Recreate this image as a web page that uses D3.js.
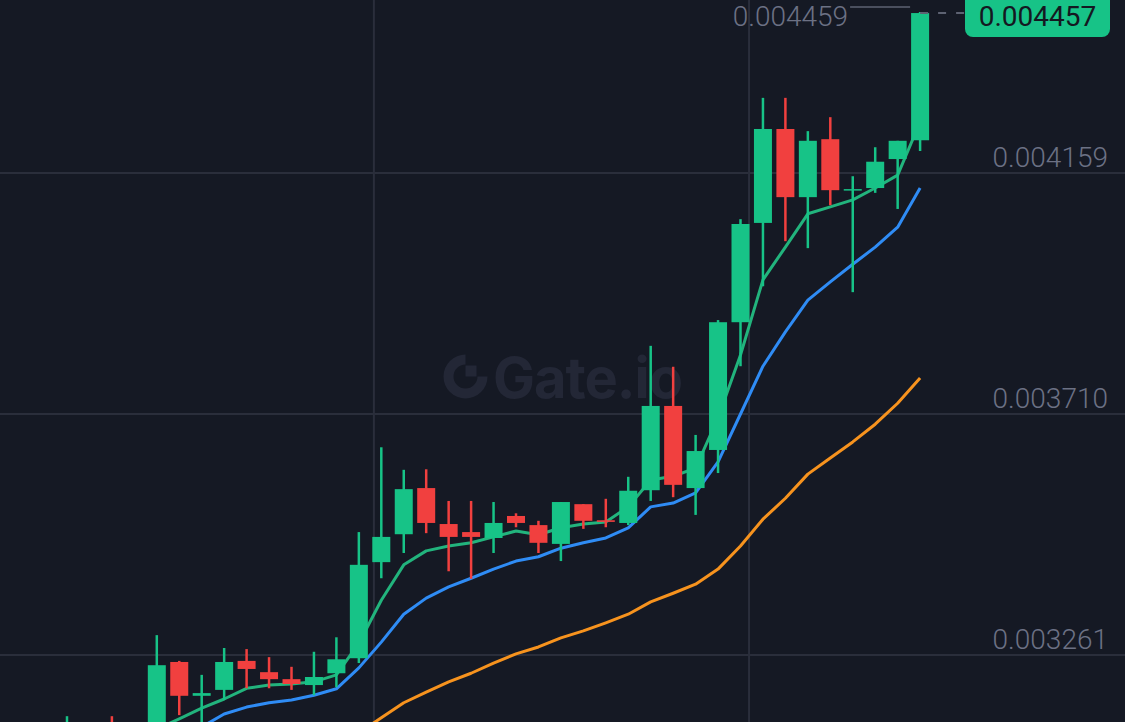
<!DOCTYPE html>
<html>
<head>
<meta charset="utf-8">
<script src="https://cdn.jsdelivr.net/npm/d3@7"></script>
<style>
html,body{margin:0;padding:0;background:#151924;overflow:hidden;}
svg{display:block;}
</style>
</head>
<body>
<svg id="chart" width="1125" height="722"></svg>
<script>
// ---- data (prices in units of 0.000001) ----
const opens  = [3093,3112,3125,3103,3103,3248,3185,3196,3250,3229,3216,3205,3227,3255,3434,3486,3572,3505,3490,3479,3520,3503,3468,3542,3512,3507,3568,3725,3572,3643,3881,4066,4241,4114,4222,4128,4131,4185,4220];
const highs  = [3147,3132,3147,3131,3298,3250,3224,3274,3272,3257,3239,3267,3294,3490,3648,3606,3607,3548,3548,3546,3525,3511,3546,3542,3552,3593,3837,3798,3671,3885,4073,4299,4299,4237,4263,4153,4207,4219,4459];
const lows   = [3080,3093,3075,3088,3093,3149,3125,3177,3199,3199,3196,3186,3201,3246,3404,3451,3488,3417,3403,3451,3499,3451,3436,3496,3499,3503,3548,3555,3522,3600,3799,3948,4032,4019,4099,3937,4122,4092,4200];
const closes = [3129,3125,3093,3121,3242,3185,3190,3248,3235,3216,3207,3220,3253,3429,3481,3570,3507,3481,3481,3507,3507,3470,3546,3511,3509,3567,3725,3578,3641,3881,4064,4241,4114,4219,4127,4129,4180,4219,4457];
const emaFast = [null,null,null,3116,3123,3142,3162,3179,3199,3205,3207,3211,3224,3283,3363,3429,3455,3464,3470,3481,3492,3485,3498,3505,3509,3537,3587,3594,3609,3703,3820,3960,4021,4083,4096,4109,4131,4155,4254];
const emaMid  = [null,null,null,null,null,3103,3127,3151,3164,3172,3177,3186,3198,3237,3285,3337,3367,3388,3404,3421,3436,3444,3460,3470,3479,3498,3537,3544,3563,3621,3710,3799,3863,3922,3956,3989,4021,4058,4131];
const emaSlow = [null,null,null,null,null,null,null,null,null,null,null,null,3088,3116,3144,3172,3192,3211,3227,3246,3263,3276,3293,3306,3321,3337,3360,3376,3393,3421,3464,3514,3553,3598,3628,3658,3691,3730,3777];
const priceTicks = [0.003261, 0.003710, 0.004159];
const timeGridIdx = [13.67, 30.38];
const UNIT = 1e-6;

const W = 1125, H = 722;
const svg = d3.select("#chart");
const x = d3.scaleLinear().domain([0, 38]).range([67, 920.1]);
const y = d3.scaleLinear().domain([0.003261, 0.004159]).range([655, 173]);

const candles = opens.map((o, i) => ({i, o: o*UNIT, h: highs[i]*UNIT, l: lows[i]*UNIT, c: closes[i]*UNIT}));

const C_BG = "#151924", C_GRID = "#2a2e3b", C_UP = "#17c387", C_DN = "#f1403f", C_TXT = "#6c7184";

svg.append("rect").attr("width", W).attr("height", H).attr("fill", C_BG);

// grid
svg.append("g").selectAll("line").data(priceTicks).join("line")
  .attr("x1", 0).attr("x2", W).attr("y1", d => y(d)).attr("y2", d => y(d))
  .attr("stroke", C_GRID).attr("stroke-width", 2);
svg.append("g").selectAll("line").data(timeGridIdx).join("line")
  .attr("x1", d => x(d)).attr("x2", d => x(d)).attr("y1", 0).attr("y2", H)
  .attr("stroke", C_GRID).attr("stroke-width", 2);

// watermark
const wm = svg.append("g").attr("fill", "#232736");
const cx = 465.5, cy = 376.5;
const arc = d3.arc().innerRadius(12).outerRadius(22).startAngle(Math.PI*0.5).endAngle(Math.PI*2);
wm.append("path").attr("d", arc()).attr("transform", `translate(${cx},${cy})`);
wm.append("rect").attr("x", cx).attr("y", cy - 11).attr("width", 11).attr("height", 11);
wm.append("text").attr("x", 493).attr("y", 398).attr("font-family", "Inter, Roboto, sans-serif")
  .attr("font-weight", 700).attr("font-size", 56).attr("letter-spacing", -1).text("Gate.io");

// price axis labels
svg.append("g").selectAll("text").data(priceTicks).join("text")
  .attr("x", 1108).attr("y", d => y(d) - 6).attr("text-anchor", "end")
  .attr("font-family", "Roboto, sans-serif").attr("font-weight", 300).attr("font-size", 28)
  .attr("fill", C_TXT).text(d => d.toFixed(6));

// EMA lines
const lineGen = d3.line().defined(d => d != null).x((d, i) => x(i)).y(d => y(d*UNIT));
[[emaSlow, "#f7931e"], [emaMid, "#2f8cf5"], [emaFast, "#22b47d"]].forEach(([arr, col]) => {
  svg.append("path").datum(arr).attr("d", lineGen).attr("fill", "none")
    .attr("stroke", col).attr("stroke-width", 3).attr("stroke-linejoin", "round");
});

// candles
const bodyW = 18;
const cg = svg.append("g").selectAll("g").data(candles).join("g")
  .attr("fill", d => d.c >= d.o ? C_UP : C_DN).attr("stroke", d => d.c >= d.o ? C_UP : C_DN);
cg.append("line").attr("x1", d => x(d.i)).attr("x2", d => x(d.i))
  .attr("y1", d => y(d.h)).attr("y2", d => y(d.l)).attr("stroke-width", 2.5);
cg.append("rect").attr("x", d => x(d.i) - bodyW/2).attr("width", bodyW)
  .attr("y", d => y(Math.max(d.o, d.c))).attr("height", d => Math.max(1.5, Math.abs(y(d.o) - y(d.c))))
  .attr("stroke", "none");

// high marker
const hiIdx = d3.maxIndex(candles, d => d.h);
const hi = candles[hiIdx];
svg.append("line").attr("x1", x(hi.i) - 70).attr("x2", x(hi.i) - 10)
  .attr("y1", y(hi.h) - 5).attr("y2", y(hi.h) - 5).attr("stroke", "#5d6272").attr("stroke-width", 1.5);
svg.append("text").attr("x", x(hi.i) - 72).attr("y", y(hi.h) + 14).attr("text-anchor", "end")
  .attr("font-family", "Roboto, sans-serif").attr("font-weight", 300).attr("font-size", 28)
  .attr("fill", C_TXT).text(hi.h.toFixed(6));

// last price line + label
const last = candles[candles.length - 1];
const ly = y(last.c);
svg.append("line").attr("x1", x(last.i)).attr("x2", 965).attr("y1", ly).attr("y2", ly)
  .attr("stroke", "#5d6272").attr("stroke-width", 2).attr("stroke-dasharray", "8,10");
svg.append("rect").attr("x", 965).attr("y", ly - 22).attr("width", 145).attr("height", 46)
  .attr("rx", 8).attr("fill", C_UP);
svg.append("text").attr("x", 1037.5).attr("y", ly + 13).attr("text-anchor", "middle")
  .attr("font-family", "Roboto, sans-serif").attr("font-weight", 400).attr("font-size", 28)
  .attr("fill", "#141821").text(last.c.toFixed(6));
</script>
</body>
</html>
